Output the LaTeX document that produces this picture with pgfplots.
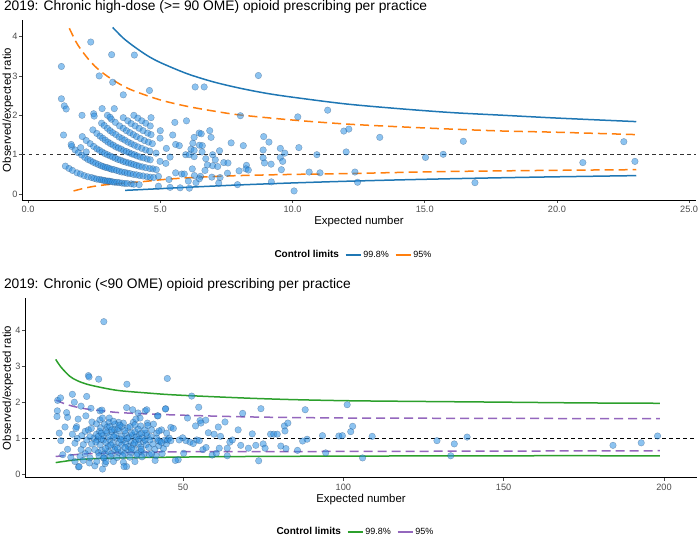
\documentclass[border=0pt]{standalone}
\usepackage{pgfplots}
\pgfplotsset{compat=1.18}
\usepackage{fontspec}
\setmainfont{Liberation Sans}
\definecolor{ptfill}{RGB}{45,145,228}
\definecolor{ptdraw}{RGB}{20,50,90}
\definecolor{cblue}{RGB}{31,119,180}
\definecolor{corange}{RGB}{255,127,14}
\definecolor{cgreen}{RGB}{44,160,44}
\definecolor{cpurple}{RGB}{148,103,189}
\definecolor{tickgray}{RGB}{77,77,77}
\pgfplotsset{
  chartstyle/.style={
    scale only axis,
    axis x line*=bottom, axis y line*=left,
    axis line style={black, line width=0.6pt},
    tick align=outside, major tick length=3pt,
    tick style={tickgray, line width=0.5pt},
    ticklabel style={font=\fontsize{9.2}{10}\selectfont, text=tickgray},
    yticklabel style={xshift=2pt},
    /pgf/number format/assume math mode=true,
    label style={font=\fontsize{11.4}{12}\selectfont},
    ytick={0,1,2,3,4},
    clip=false,
    legend columns=-1,
    legend style={draw=none, fill=none, font=\fontsize{9}{10}\selectfont,
      /tikz/every even column/.append style={column sep=4pt}},
    legend image code/.code={\draw[#1,solid] (0pt,0pt) -- (15pt,0pt);},
  },
  pts/.style={only marks, mark=*, mark size=3.3pt,
    mark options={fill=ptfill, fill opacity=0.55, draw=ptdraw, draw opacity=0.4, line width=0.35pt}},
}
\begin{document}
\begin{tikzpicture}
\useasboundingbox (0,0) rectangle (700pt,537pt);
% ---------------- top panel ----------------
\begin{axis}[chartstyle,
  at={(22pt,337pt)}, anchor=south west, width=674pt, height=180pt,
  xmin=-0.23, xmax=25.26, ymin=-0.15, ymax=4.42,
  xtick={0,5,10,15,20,25},
  xticklabel style={/pgf/number format/.cd, fixed, fixed zerofill, precision=1},
  xlabel={Expected number}, ylabel={Observed/expected ratio},
  xlabel style={at={(axis description cs:0.5,-0.12)}, anchor=center},
  ylabel style={at={(axis description cs:0,0.5)}, anchor=center, yshift=14pt},
  legend style={at={(0.5,-0.306)}, anchor=center},
]
\addlegendimage{empty legend}
\addlegendentry{\hspace{-12pt}\textbf{\fontsize{10}{11}\selectfont Control limits}}
\addlegendimage{cblue, line width=1.5pt}
\addlegendentry{99.8\%}
\addlegendimage{corange, line width=1.5pt}
\addlegendentry{95\%}
\addplot[pts, forget plot] coordinates {
(1.41,0.71)(1.55,0.65)(1.68,0.60)(1.85,0.54)(1.98,0.51)(2.12,0.47)(2.26,0.44)(2.40,0.42)(2.50,0.40)(2.60,0.38)(2.70,0.37)(2.78,0.36)(2.85,0.35)(2.92,0.34)(3.00,0.33)(3.06,0.33)(3.12,0.32)(3.20,0.31)(3.28,0.30)(3.36,0.30)(3.45,0.29)(3.55,0.28)(3.65,0.27)(3.75,0.27)(3.90,0.26)(4.00,0.25)(4.20,0.24)
(1.65,1.21)(1.78,1.12)(1.90,1.05)(2.03,0.99)(2.15,0.93)(2.26,0.88)(2.36,0.85)(2.46,0.81)(2.56,0.78)(2.66,0.75)(2.76,0.72)(2.84,0.70)(2.92,0.68)(3.00,0.67)(3.08,0.65)(3.16,0.63)(3.25,0.62)(3.35,0.60)(3.45,0.58)(3.55,0.56)(3.66,0.55)(3.76,0.53)(3.86,0.52)(3.98,0.50)(4.10,0.49)(4.22,0.47)(4.35,0.46)(4.50,0.44)(4.62,0.43)(4.75,0.42)
(2.05,1.46)(2.20,1.36)(2.35,1.28)(2.48,1.21)(2.60,1.15)(2.70,1.11)(2.80,1.07)(2.90,1.03)(3.00,1.00)(3.10,0.97)(3.20,0.94)(3.30,0.91)(3.40,0.88)(3.50,0.86)(3.60,0.83)(3.70,0.81)(3.80,0.79)(3.90,0.77)(4.00,0.75)(4.10,0.73)(4.20,0.71)(4.32,0.69)(4.45,0.67)(4.60,0.65)(4.72,0.64)(4.85,0.62)
(2.45,1.63)(2.60,1.54)(2.72,1.47)(2.82,1.42)(2.92,1.37)(3.02,1.32)(3.12,1.28)(3.22,1.24)(3.32,1.20)(3.42,1.17)(3.52,1.14)(3.62,1.10)(3.72,1.08)(3.82,1.05)(3.92,1.02)(4.02,1.00)(4.12,0.97)(4.24,0.94)(4.36,0.92)(4.50,0.89)(4.62,0.87)
(2.78,1.80)(2.88,1.74)(3.00,1.67)(3.10,1.61)(3.20,1.56)(3.32,1.51)(3.44,1.45)(3.55,1.41)(3.66,1.37)(3.78,1.32)(3.90,1.28)(4.02,1.24)(4.15,1.20)(4.30,1.16)(4.45,1.12)(4.60,1.09)
(3.00,2.00)(3.15,1.90)(3.30,1.82)(3.46,1.73)(3.60,1.67)(3.72,1.61)(3.85,1.56)(3.98,1.51)(4.10,1.46)(4.25,1.41)(4.40,1.36)(4.55,1.32)(4.70,1.28)
(3.60,1.94)(3.77,1.86)(3.90,1.79)(4.05,1.73)(4.20,1.67)(4.35,1.61)(4.52,1.55)(4.65,1.51)
(4.00,2.00)(4.15,1.93)(4.30,1.86)(4.45,1.80)(4.62,1.73)
(1.26,3.24)(2.37,3.86)(3.16,3.54)(4.02,3.53)(2.69,3.00)(3.20,2.84)(3.60,2.52)(4.59,2.63)(1.26,2.42)(1.37,2.24)(1.44,2.16)(2.04,2.00)(2.48,2.04)(2.50,1.98)(2.80,2.17)(3.26,2.17)(3.10,1.95)(1.34,1.50)(1.63,1.26)(1.99,1.18)(2.20,1.07)(4.65,1.94)
(4.84,1.04)(4.99,0.83)(4.93,0.45)
(8.71,3.01)(6.32,2.72)(6.66,2.72)(11.33,2.13)(8.03,1.99)(10.20,1.96)(5.55,1.82)(5.99,1.86)(5.00,1.61)(5.47,1.50)(4.99,1.42)(6.47,1.55)(6.55,1.53)(6.28,1.44)(6.87,1.61)(6.92,1.44)(8.91,1.46)(9.11,1.32)(7.68,1.30)(8.14,1.23)(6.23,1.29)(6.48,1.24)(6.59,1.23)(5.58,1.26)(5.72,1.23)(5.23,1.16)(6.16,1.14)(6.28,1.11)(7.24,1.10)(6.58,1.07)(8.89,1.12)(9.54,1.16)(10.24,1.18)(9.71,1.04)(10.92,1.00)(5.96,1.00)(6.10,1.00)(6.28,0.95)(6.98,1.00)(5.37,0.94)(6.72,0.90)(7.08,0.87)(8.89,0.92)(8.94,0.79)(9.19,0.76)(9.54,0.93)(9.63,0.83)(8.26,0.73)(8.24,0.64)(5.21,0.78)(7.40,0.80)(7.56,0.79)(6.98,0.72)(7.17,0.70)(6.21,0.64)(6.78,0.74)(6.69,0.60)(6.29,0.47)(6.52,0.45)(7.54,0.53)(6.95,0.43)(7.26,0.42)(7.98,0.59)(8.33,0.61)(9.58,0.62)(10.63,0.56)(11.04,0.54)(5.58,0.54)(5.81,0.51)(5.91,0.51)(5.33,0.37)(6.06,0.33)(6.35,0.29)(6.48,0.39)(7.21,0.28)(7.92,0.24)(9.20,0.31)(10.06,0.08)(4.93,0.20)(5.37,0.17)(5.75,0.16)(6.10,0.15)
(11.94,1.60)(12.13,1.65)(13.30,1.44)(16.46,1.34)(22.53,1.33)(12.03,1.07)(15.03,0.93)(15.70,1.01)(20.98,0.80)(22.95,0.83)(12.36,0.56)(12.46,0.30)(16.90,0.29)
};
\addplot[forget plot, color={rgb,255:red,51;green,51;blue,51}, line width=0.7pt, dash pattern=on 3.5pt off 3.5pt] coordinates {(-0.23,1) (25.26,1)};
\addplot[forget plot, cblue, line width=1.5pt, smooth] coordinates {
(3.2,4.23)(3.6,3.96)(4.0,3.75)(4.5,3.52)(5.0,3.34)(6.0,3.06)(7.0,2.85)(8.0,2.69)(9.0,2.56)(10.0,2.46)(12.0,2.29)(14.0,2.17)(16.0,2.07)(18.0,2.00)(20.0,1.93)(23.0,1.84)};
\addplot[forget plot, cblue, line width=1.5pt, smooth] coordinates {
(3.67,0.095)(4.0,0.105)(5.0,0.138)(6.0,0.172)(7.0,0.203)(8.0,0.233)(10.0,0.283)(12.0,0.325)(14.0,0.36)(16.0,0.39)(18.0,0.416)(20.0,0.439)(23.0,0.469)};
\addplot[forget plot, corange, line width=1.5pt, dash pattern=on 9pt off 5pt, smooth] coordinates {
(1.56,4.21)(1.8,3.88)(2.0,3.67)(2.3,3.41)(2.6,3.20)(3.0,2.99)(3.5,2.78)(4.0,2.62)(5.0,2.39)(6.0,2.23)(7.0,2.11)(8.0,2.01)(10.0,1.88)(12.0,1.78)(14.0,1.71)(16.0,1.65)(18.0,1.60)(20.0,1.57)(23.0,1.51)};
\addplot[forget plot, corange, line width=1.5pt, dash pattern=on 9pt off 5pt, smooth] coordinates {
(1.72,0.08)(2.2,0.16)(2.72,0.22)(3.48,0.27)(4.24,0.31)(5.3,0.38)(6.5,0.43)(8.0,0.47)(10.0,0.50)(12.0,0.52)(15.6,0.57)(19.4,0.60)(23.0,0.62)};
\end{axis}
\node[anchor=west, font=\fontsize{13.8}{15}\selectfont] at (0.5pt,530pt) {2019: Chronic high-dose (>= 90 OME) opioid prescribing per practice};
% ---------------- bottom panel ----------------
\begin{axis}[chartstyle,
  at={(25pt,59.3pt)}, anchor=south west, width=672pt, height=179.4pt,
  xmin=0.72, xmax=210.3, ymin=-0.09, ymax=4.9,
  xtick={50,100,150,200},
  xlabel={Expected number}, ylabel={Observed/expected ratio},
  xlabel style={at={(axis description cs:0.5,-0.124)}, anchor=center},
  ylabel style={at={(axis description cs:0,0.5)}, anchor=center, yshift=17pt},
  legend style={at={(0.5,-0.303)}, anchor=center},
]
\addlegendimage{empty legend}
\addlegendentry{\hspace{-12pt}\textbf{\fontsize{10}{11}\selectfont Control limits}}
\addlegendimage{cgreen, line width=1.5pt}
\addlegendentry{99.8\%}
\addlegendimage{cpurple, line width=1.5pt}
\addlegendentry{95\%}
\addplot[pts, forget plot] coordinates {
(22.2,1.01)(23.3,0.96)(24.1,0.83)(25.2,0.96)(26.0,0.89)(26.7,0.78)(27.2,0.96)(28.1,0.87)(28.8,0.76)(29.3,1.01)(30.1,0.89)(30.9,0.83)(31.4,0.96)(32.2,0.87)(33.0,0.78)(33.7,0.92)(34.5,0.83)(35.3,0.96)(36.1,0.85)(36.8,0.76)(37.6,0.92)(38.5,0.83)
(22.5,0.69)(23.6,0.61)(24.6,0.67)(25.6,0.58)(26.7,0.64)(27.7,0.58)(28.7,0.69)(29.8,0.61)(30.8,0.64)(31.8,0.58)(32.8,0.69)(33.8,0.61)(34.8,0.69)(35.8,0.58)(36.9,0.64)(37.9,0.58)
(23.0,1.12)(24.0,1.20)(25.0,1.08)(26.2,1.15)(27.0,1.05)(27.9,1.18)(29.0,1.10)(30.0,1.22)(31.0,1.06)(32.1,1.14)(33.2,1.04)(34.2,1.09)(35.4,1.05)(36.4,1.12)(37.3,1.02)(38.8,1.08)(40.0,1.05)
(23.8,0.52)(25.4,0.46)(27.4,0.50)(29.4,0.47)(31.2,0.52)(33.4,0.48)(35.6,0.53)(37.2,0.49)(39.5,0.55)(41.6,0.52)(43.5,0.58)
(22.8,0.90)(24.5,0.98)(25.8,0.72)(27.5,0.82)(28.4,1.05)(29.6,0.72)(30.5,0.98)(31.9,0.75)(32.6,1.00)(33.9,0.72)(34.9,0.88)(36.2,0.98)(37.0,0.70)(38.2,0.96)(39.3,0.75)(40.6,0.85)(41.2,0.70)(42.5,0.80)(43.9,0.72)(44.8,0.85)
(24.3,1.30)(25.5,1.40)(26.9,1.45)(28.6,1.25)(29.9,1.45)(32.8,1.30)(34.5,1.45)(36.8,1.35)(38.5,1.15)(40.8,1.40)
(17.4,0.21)(22.5,0.24)(24.9,0.15)(25.7,0.30)(32.4,0.22)(31.4,0.34)(35.0,0.36)(41.3,0.39)(28.3,0.36)(17.9,0.50)(18.9,0.39)(21.0,0.46)(23.1,0.36)(25.2,0.46)(20.8,0.32)(26.0,0.36)(31.6,0.22)(16.3,0.36)(17.6,0.22)
(11.4,1.15)(11.9,0.94)(13.2,1.32)(15.5,1.12)(16.3,0.87)(18.4,1.08)(18.9,0.83)(20.0,0.96)(18.2,0.69)(20.5,0.67)(14.0,0.70)(12.5,0.55)(15.0,0.48)(19.5,0.58)(21.5,0.85)(21.0,1.05)(19.5,1.20)(17.0,1.00)
(23.6,1.06)(24.6,1.15)(26.0,1.22)(26.4,1.32)(27.2,1.33)(27.8,1.24)(28.8,1.40)(29.8,1.28)(30.9,1.33)(31.4,1.43)(31.9,1.22)(34.0,1.15)(35.0,1.19)(36.0,1.26)(37.1,1.15)(38.1,1.24)(40.2,1.24)(41.8,1.15)(43.3,1.24)(44.9,1.15)(39.7,0.96)(41.8,1.01)(42.8,0.92)(44.4,0.96)(45.7,1.01)
(21.6,1.46)(23.0,1.41)(24.1,1.52)(24.9,1.57)(27.0,1.57)(28.3,1.48)(30.3,1.37)(20.5,1.24)(21.4,1.28)(36.6,1.57)(35.3,1.54)(33.5,1.33)(35.0,1.38)(38.9,1.43)(39.0,1.36)
(20.5,2.75)(20.7,2.71)(23.7,2.65)(32.5,2.51)(45.1,2.67)(10.9,2.06)(11.8,2.13)(15.5,2.23)(19.96,2.17)(16.1,2.01)(18.2,1.90)(21.3,1.84)(10.8,1.77)(13.7,1.72)(10.7,1.61)(14.0,1.59)(17.3,1.54)(16.8,1.33)(16.6,1.28)(19.7,1.63)(24.1,1.77)(24.7,1.79)(32.4,1.86)(34.3,1.80)(36.0,1.71)(38.2,1.77)(38.7,1.80)(42.0,1.63)(44.6,1.83)(25.3,4.25)
(52.7,2.18)(54.9,1.87)(44.5,1.82)(68.6,1.70)(74.3,1.83)(88.1,1.80)(42.2,1.63)(51.4,1.57)(57.1,1.51)(55.3,1.50)(55.6,1.43)(53.9,1.35)(46.2,1.31)(47.0,1.28)(42.5,1.21)(63.1,1.46)(61.0,1.32)(67.2,1.24)(71.6,1.13)(57.9,1.16)(59.7,1.12)(61.7,1.06)(81.6,1.35)(81.8,1.21)(82.7,1.43)(77.3,1.12)(78.3,1.12)(79.4,1.12)(93.5,1.08)(98.6,1.07)(87.3,0.93)(88.7,0.98)(64.6,0.90)(65.4,0.96)(68.0,0.81)(70.4,0.73)(72.7,0.81)(75.0,0.85)(75.6,0.73)(80.5,0.79)(82.1,0.72)(85.7,0.67)(94.5,0.60)(73.6,0.38)(63.8,0.52)(59.1,0.54)(60.4,0.59)(56.2,0.69)(57.2,0.75)(50.2,0.59)(48.5,0.41)(47.6,0.39)(50.9,0.94)(52.2,0.90)(53.2,0.86)(54.3,0.96)(55.1,0.94)(49.9,1.02)(48.8,0.96)(45.2,0.96)(46.2,0.94)(42.3,0.94)(43.3,0.89)(40.2,0.58)(63.8,0.73)(61.3,0.73)
(101.2,1.94)(102.9,1.34)(102.3,1.19)(99.7,1.08)(109.0,1.06)(106.0,0.46)(129.2,0.94)(134.6,0.85)(138.6,1.04)(133.5,0.52)(184.1,0.81)(192.9,0.88)(198.0,1.07)
};
\addplot[forget plot, black, line width=0.7pt, dash pattern=on 3.5pt off 3.5pt] coordinates {(0.72,1) (210.3,1)};
\addplot[forget plot, cgreen, line width=1.5pt, smooth] coordinates {
(10.3,3.20)(12.0,2.98)(14.7,2.73)(17.0,2.61)(20.0,2.51)(25.0,2.41)(30.3,2.33)(39.7,2.26)(45.9,2.22)(55.0,2.18)(70.9,2.12)(85.0,2.08)(102.0,2.05)(125.0,2.03)(150.9,2.01)(175.0,1.99)(198.7,1.98)};
\addplot[forget plot, cgreen, line width=1.5pt, smooth] coordinates {
(10.3,0.33)(15.0,0.39)(20.0,0.43)(30.0,0.46)(45.9,0.48)(70.0,0.50)(99.0,0.51)(150.0,0.52)(198.7,0.52)};
\addplot[forget plot, cpurple, line width=1.5pt, dash pattern=on 9pt off 5pt, smooth] coordinates {
(10.3,2.07)(13.0,1.97)(16.0,1.89)(20.0,1.82)(25.0,1.77)(30.3,1.72)(45.9,1.66)(70.9,1.60)(102.0,1.57)(150.0,1.56)(198.7,1.55)};
\addplot[forget plot, cpurple, line width=1.5pt, dash pattern=on 9pt off 5pt, smooth] coordinates {
(10.3,0.50)(15.0,0.54)(20.0,0.575)(30.0,0.60)(45.9,0.63)(70.0,0.635)(99.0,0.64)(150.0,0.65)(198.7,0.66)};
\end{axis}
\node[anchor=west, font=\fontsize{13.8}{15}\selectfont] at (0.5pt,252pt) {2019: Chronic (<90 OME) opioid prescribing per practice};
\end{tikzpicture}
\end{document}
